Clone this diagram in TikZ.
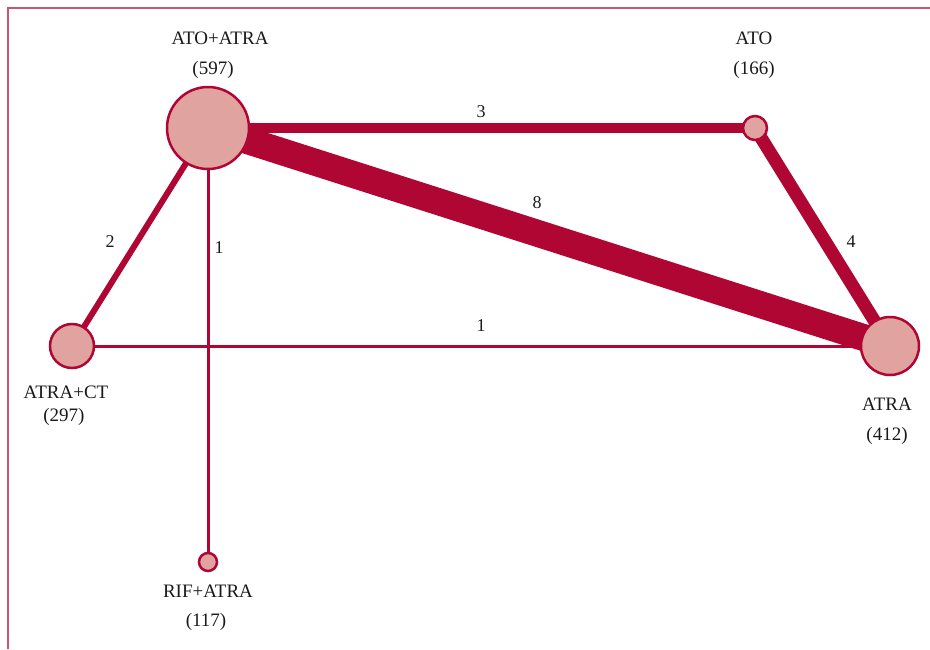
\documentclass[tikz,border=0pt]{standalone}
\usepackage{fontspec}
\setmainfont{Liberation Serif}
\usetikzlibrary{backgrounds}
\definecolor{edgecol}{RGB}{176,6,52}
\definecolor{nodefill}{RGB}{224,163,160}
\definecolor{framecol}{RGB}{204,84,110}
\begin{document}
\begin{tikzpicture}[x=1pt,y=-1pt,
  trt/.style={circle,draw=edgecol,fill=nodefill,line width=2.5pt,inner sep=0pt},
  lbl/.style={font=\fontsize{19}{22}\selectfont,text=black!90,inner sep=0pt},
  elbl/.style={font=\fontsize{18}{21}\selectfont,text=black!90,inner sep=0pt},
  conn/.style={draw=edgecol,line cap=butt}]
\useasboundingbox (0,0) rectangle (930,649);
\draw[framecol,line width=1.5pt] (930,8) -- (8,8) -- (8,649);
% nodes
\node[trt,minimum size=82pt] (aa) at (208,128) {};
\node[trt,minimum size=24pt] (ato) at (755,128) {};
\node[trt,minimum size=44pt] (ct) at (72,346) {};
\node[trt,minimum size=58pt] (atra) at (890,346) {};
\node[trt,minimum size=18pt] (rif) at (208,562) {};
% edges
\begin{scope}[on background layer]
\draw[conn,line width=10pt] (aa.center) -- (ato.center);
\draw[conn,line width=27pt] (aa.center) -- (atra.center);
\draw[conn,line width=13pt] (ato.center) -- (atra.center);
\draw[conn,line width=6pt] (aa.center) -- (ct.center);
\draw[conn,line width=3pt] (aa.center) -- (rif.center);
\draw[conn,line width=3pt] (ct.center) -- (atra.center);
\end{scope}
% edge labels
\node[elbl] (l3) at (481,112) {3};
\node[elbl] (l8) at (537,203) {8};
\node[elbl] (l4) at (851,242) {4};
\node[elbl] (l2) at (110,242) {2};
\node[elbl] (l1a) at (219,248) {1};
\node[elbl] (l1b) at (481,326) {1};
% node labels
\node[lbl] (taa) at (220,38) {ATO+ATRA};
\node[lbl] (naa) at (213,70) {(597)};
\node[lbl] (tato) at (754,38) {ATO};
\node[lbl] (nato) at (754,70) {(166)};
\node[lbl] (tct) at (66,392) {ATRA+CT};
\node[lbl] (nct) at (64,417) {(297)};
\node[lbl] (tatra) at (887,404) {ATRA};
\node[lbl] (natra) at (887,436) {(412)};
\node[lbl] (trif) at (208,591) {RIF+ATRA};
\node[lbl] (nrif) at (206,622) {(117)};
\end{tikzpicture}
\end{document}
